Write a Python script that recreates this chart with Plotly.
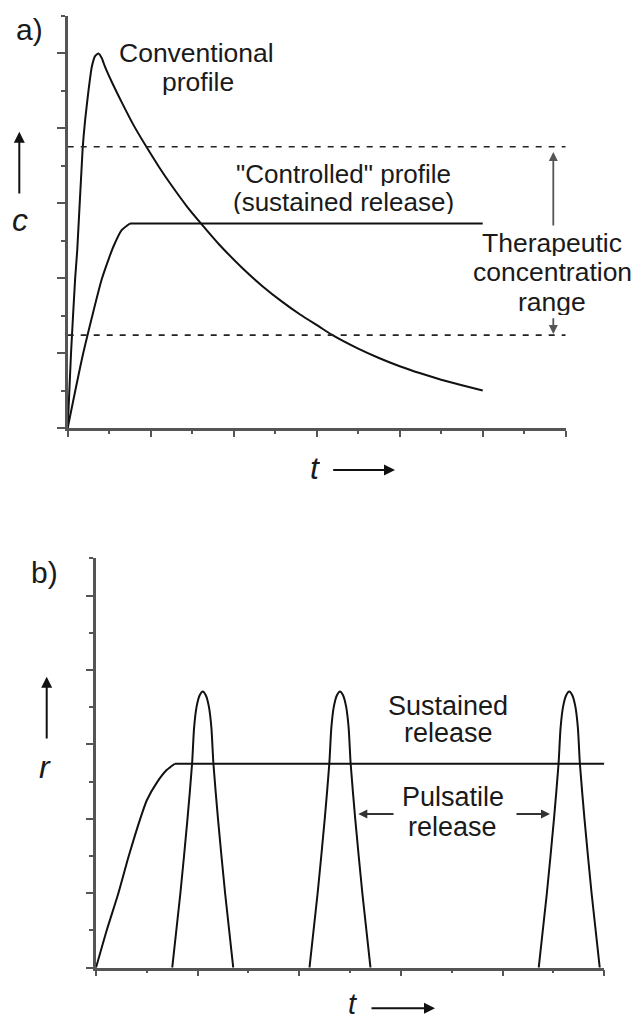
import plotly.graph_objects as go

W, H = 638, 1021

# ---------------- data ----------------
# panel a: concentration c vs time t
conv_t = [0, 0.08, 0.18, 0.23, 0.36, 0.42, 0.50, 0.58, 0.66, 0.74, 0.82, 0.90, 1.10, 1.30, 1.58,
          1.90, 2.20, 2.50, 2.87, 3.22, 3.65, 4.20, 4.70, 5.18, 5.60, 6.07, 6.35, 7.0, 7.5,
          8.0, 8.5, 9.0, 9.5, 10.0]
conv_c = [0, 2.0, 4.0, 4.75, 7.46, 8.22, 9.0, 9.64, 9.93, 10.0, 9.88, 9.64, 9.15, 8.7, 8.1,
          7.5, 6.97, 6.48, 5.92, 5.45, 4.9, 4.28, 3.78, 3.36, 3.03, 2.7, 2.5, 2.12, 1.87,
          1.65, 1.46, 1.29, 1.14, 1.0]
ctrl_t = [0, 0.375, 0.82, 1.0, 1.1, 1.3, 1.5, 10.0]
ctrl_c = [0, 2.0, 3.97, 4.55, 4.84, 5.28, 5.46, 5.46]
ther_t = [0, 12]
ther_upper = [7.51, 7.51]
ther_lower = [2.48, 2.48]

# panel b: release rate r vs time t
sus_t = [0, 0.21, 0.44, 0.64, 0.87, 1.0, 1.2, 1.39, 1.55, 10.0]
sus_r = [0, 1.0, 2.0, 2.98, 4.0, 4.5, 4.98, 5.31, 5.48, 5.48]
pulse_r = [0, 2.0, 4.0, 5.48, 6.45, 7.02, 7.32, 7.42, 7.32, 7.02, 6.45, 5.48, 4.0, 2.0, 0]
pulse1_t = [1.50, 1.66, 1.80, 1.89, 1.93, 1.98, 2.04, 2.10, 2.16, 2.22, 2.27, 2.31, 2.40, 2.54, 2.70]
pulse2_t = [4.20, 4.36, 4.50, 4.59, 4.63, 4.68, 4.74, 4.80, 4.86, 4.92, 4.97, 5.01, 5.10, 5.24, 5.40]
pulse3_t = [8.71, 8.87, 9.01, 9.10, 9.14, 9.19, 9.25, 9.31, 9.37, 9.43, 9.48, 9.52, 9.61, 9.75, 9.91]

# ---------------- figure ----------------
def px(x):
    return x / W


def py(y):
    return 1 - y / H


FONT = "Liberation Sans, Arial, Helvetica, sans-serif"
INK = "#111111"
AX = "#555555"

fig = go.Figure()
lw = 2.0


def line(x, y, xa, ya, shape="linear", smoothing=0.5, **kw):
    fig.add_trace(go.Scatter(x=x, y=y, mode="lines",
                             line=dict(color=kw.get("color", INK), width=kw.get("width", lw), shape=shape,
                                       smoothing=smoothing if shape == "spline" else None,
                                       dash=kw.get("dash")),
                             xaxis=xa, yaxis=ya, hoverinfo="skip"))


# panel a
line(conv_t, conv_c, "x", "y", "spline", 0.5)
line(ctrl_t[:7], ctrl_c[:7], "x", "y", "spline", 0.6)
line(ctrl_t[6:], ctrl_c[6:], "x", "y")
line(ther_t, ther_upper, "x", "y", color="#222222", width=1.6, dash="6px,7px")
line(ther_t, ther_lower, "x", "y", color="#222222", width=1.6, dash="6px,7px")

# panel b
line(sus_t[:9], sus_r[:9], "x2", "y2", "spline", 0.6)
line(sus_t[8:], sus_r[8:], "x2", "y2")
for pt in (pulse1_t, pulse2_t, pulse3_t):
    line(pt, pulse_r, "x2", "y2", "spline", 0.7)


def axis(domain, rng, anchor, major, minor_len, major_len):
    return dict(domain=domain, range=rng, anchor=anchor, showgrid=False, zeroline=False,
                showline=True, linecolor=AX, linewidth=2.5, showticklabels=False,
                ticks="outside", tick0=0, dtick=major, ticklen=major_len, tickwidth=1.5, tickcolor=AX,
                minor=dict(ticks="outside", tick0=0, dtick=1, ticklen=minor_len, tickwidth=1.5, tickcolor=AX),
                fixedrange=True)


fig.update_layout(
    width=W, height=H, margin=dict(l=0, r=0, t=0, b=0),
    paper_bgcolor="white", plot_bgcolor="white", showlegend=False,
    xaxis=axis([px(67.7), px(565.7)], [0, 12], "y", 2, 3, 6),
    yaxis=axis([py(428), py(16)], [0, 11], "x", 2, 4, 7.5),
    xaxis2=axis([px(96), px(604.3)], [0, 10], "y2", 2, 3, 6),
    yaxis2=axis([py(967.7), py(558.3)], [0, 11], "x2", 2, 4, 7.5),
)

ann = []


def text(t, x, y, size=26.5, color="#1a1a1a", h=None):
    d = dict(text=t, x=px(x), y=py(y), xref="paper", yref="paper", showarrow=False,
             xanchor="center", yanchor="middle", font=dict(family=FONT, size=size, color=color))
    if h is not None:
        d["height"] = h
    ann.append(d)


def arrow(hx, hy, tx, ty, color="#111111", width=2.0, size=1.1):
    ann.append(dict(text="", x=px(hx), y=py(hy), xref="paper", yref="paper", showarrow=True,
                    ax=tx - hx, ay=ty - hy, axref="pixel", ayref="pixel",
                    arrowhead=2, arrowsize=size, arrowwidth=width, arrowcolor=color, standoff=0, startstandoff=0))


# panel a texts
text("a)", 29, 30, 30)
text("Conventional", 196.7, 53.3, h=26)
text("profile", 197.5, 81.7, h=26)
text("\"Controlled\" profile", 343, 174, 26, h=24)
text("(sustained release)", 343, 202, 26, h=24)
text("Therapeutic", 552, 243, h=26)
text("concentration", 552, 272, h=26)
text("range", 552, 302, h=26)
text("<i>c</i>", 20, 220, 32, h=30)
text("<i>t</i>", 315, 468, 32, h=30)
arrow(19.3, 131.7, 19.3, 195)
arrow(395, 470, 331.7, 470)
arrow(553.3, 152, 553.3, 227, color="#555555", width=1.8, size=1.0)
arrow(553.3, 334, 553.3, 316.7, color="#555555", width=1.8, size=1.0)

# panel b texts
text("b)", 44, 572, 30)
text("Sustained", 448.3, 705.5, 27, h=26)
text("release", 448, 732.5, 27, h=26)
text("Pulsatile", 453.3, 796.7, 27, h=28)
text("release", 452.5, 827, 27, h=28)
text("<i>r</i>", 45, 767, 32, h=30)
text("<i>t</i>", 352.5, 1004, 29, h=22)
arrow(46.7, 676.7, 46.7, 740)
arrow(435, 1008.3, 370, 1008.3)
arrow(358.3, 814, 395, 814, color="#333333", width=1.8, size=1.0)
arrow(550, 814, 515, 814, color="#333333", width=1.8, size=1.0)

fig.update_layout(annotations=ann)
fig.write_html("out.html")
